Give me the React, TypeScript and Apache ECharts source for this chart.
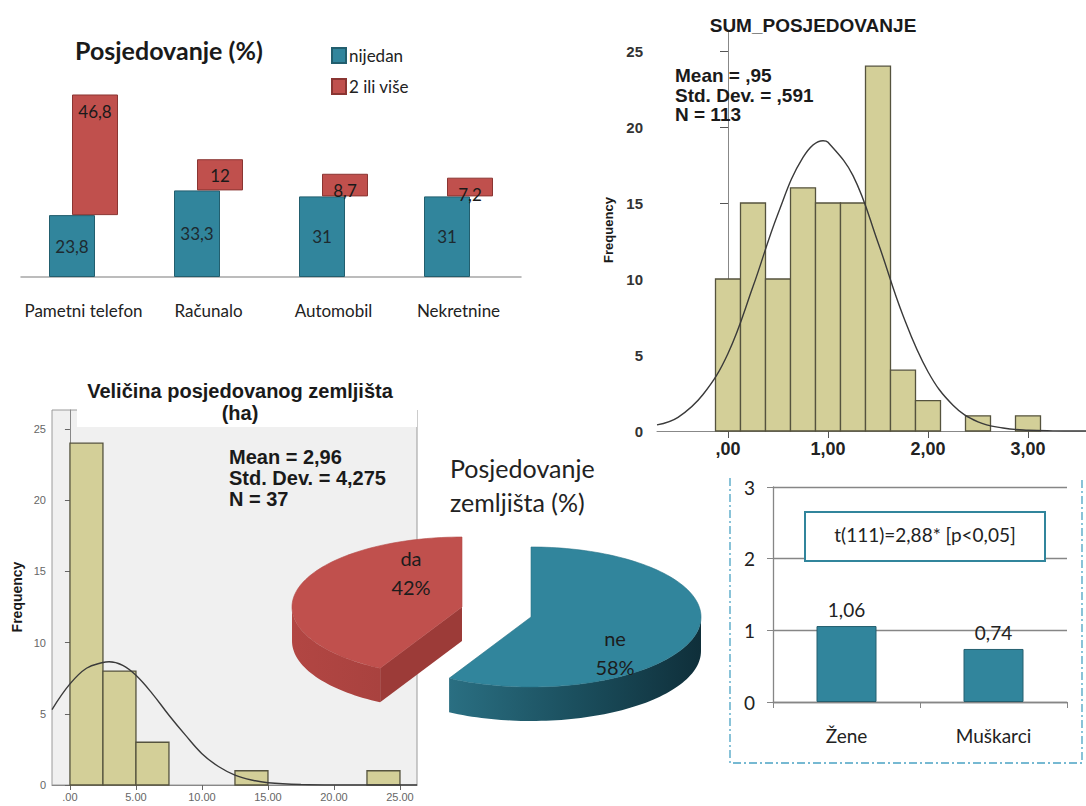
import React, { useEffect, useRef } from 'react';
import * as echarts from 'echarts';

// ---------- data ----------
const OWN_CATEGORIES = ['Pametni telefon', 'Računalo', 'Automobil', 'Nekretnine'];
const OWN_NONE = [23.8, 33.3, 31, 31];
const OWN_TWO_PLUS = [46.8, 12, 8.7, 7.2];
const OWN_LEGEND = ['nijedan', '2 ili više'];

const SUM_BIN_START = [-0.125, 0.125, 0.375, 0.625, 0.875, 1.125, 1.375, 1.625, 1.875, 2.375, 2.875];
const SUM_BIN_WIDTH = 0.25;
const SUM_COUNTS = [10, 15, 10, 16, 15, 15, 24, 4, 2, 1, 1];
const SUM_CURVE_X = [-0.71, -0.5, -0.25, 0, 0.25, 0.5, 0.75, 0.95, 1.0, 1.25, 1.5, 1.75, 2.0, 2.25, 2.5, 2.75, 3.0, 3.25, 3.58];
const SUM_CURVE_Y = [0.4, 0.9, 2.4, 5.1, 9.5, 14.3, 18.0, 19.1, 19.0, 16.8, 12.4, 7.6, 3.9, 1.7, 0.6, 0.2, 0.05, 0.01, 0];
const SUM_X_TICKS = [0, 1, 2, 3];
const SUM_X_LABELS = [',00', '1,00', '2,00', '3,00'];
const SUM_Y_TICKS = [0, 5, 10, 15, 20, 25];
const SUM_STATS = ['Mean = ,95', 'Std. Dev. = ,591', 'N = 113'];

const LAND_BIN_START = [0, 2.5, 5, 12.5, 22.5];
const LAND_BIN_WIDTH = 2.5;
const LAND_COUNTS = [24, 8, 3, 1, 1];
const LAND_CURVE_X = [-1.36, 0, 1.25, 2.5, 2.96, 4, 5, 6.25, 7.5, 8.75, 10, 11.25, 12.5, 13.75, 15, 17.5, 20, 26.3];
const LAND_CURVE_Y = [5.3, 7.1, 8.2, 8.6, 8.65, 8.4, 7.7, 6.4, 4.9, 3.5, 2.2, 1.3, 0.7, 0.35, 0.16, 0.03, 0, 0];
const LAND_X_TICKS = [0, 5, 10, 15, 20, 25];
const LAND_X_LABELS = ['.00', '5.00', '10.00', '15.00', '20.00', '25.00'];
const LAND_Y_TICKS = [0, 5, 10, 15, 20, 25];
const LAND_STATS = ['Mean = 2,96', 'Std. Dev. = 4,275', 'N = 37'];

const PIE_NAMES = ['ne', 'da'];
const PIE_VALUES = [58, 42];

const GENDER_CATEGORIES = ['Žene', 'Muškarci'];
const GENDER_MEANS = [1.06, 0.74];
const GENDER_TEST = 't(111)=2,88* [p<0,05]';

// ---------- styles ----------
const OFFICE = 'Lato, "Open Sans", sans-serif';
const SPSS = '"Liberation Sans", Arial, sans-serif';
const BLUE = '#31859c';
const RED = '#c0504d';
const KHAKI = '#d3cf98';

const comma = (v: number) => String(v).replace('.', ',');

const PIE_GEOM = [
  {
    cx: 531, cy: 617, top: BLUE, edge: '#2a7488',
    side: { type: 'linear', x: 0, y: 0, x2: 1, y2: 0, colorStops: [{ offset: 0, color: '#2a6f82' }, { offset: 0.5, color: '#1b4f5e' }, { offset: 1, color: '#0f2f3a' }] },
    cut: '#1b4f5e', label: [615, 652],
  },
  {
    cx: 462, cy: 607, top: RED, edge: '#b44a47',
    side: { type: 'linear', x: 0, y: 0, x2: 1, y2: 0, colorStops: [{ offset: 0, color: '#b24643' }, { offset: 1, color: '#a9423f' }] },
    cut: '#9c3b38', label: [411, 572],
  },
];
const PIE_RX = 170;
const PIE_RY = 70;
const PIE_DEPTH = 34;

function pieRenderItem(params: any, api: any) {
  const i = params.dataIndex;
  const total = PIE_VALUES.reduce((a, b) => a + b, 0);
  const before = PIE_VALUES.slice(0, i).reduce((a, b) => a + b, 0);
  const start = (before / total) * Math.PI * 2;
  const end = start + (api.value(0) / total) * Math.PI * 2;
  const g = PIE_GEOM[i];
  const pt = (a: number, dy = 0) => [g.cx + PIE_RX * Math.sin(a), g.cy - PIE_RY * Math.cos(a) + dy];
  const arc = (a0: number, a1: number, dy: number) => {
    const n = Math.max(2, Math.ceil((a1 - a0) / 0.03));
    const pts: number[][] = [];
    for (let k = 0; k <= n; k++) pts.push(pt(a0 + ((a1 - a0) * k) / n, dy));
    return pts;
  };
  const children: any[] = [];
  if (Math.sin(start) < -1e-6) {
    children.push({ type: 'polygon', shape: { points: [[g.cx, g.cy], pt(start), pt(start, PIE_DEPTH), [g.cx, g.cy + PIE_DEPTH]] }, style: { fill: g.cut } });
  }
  if (Math.sin(end) > 1e-6) {
    children.push({ type: 'polygon', shape: { points: [[g.cx, g.cy], pt(end), pt(end, PIE_DEPTH), [g.cx, g.cy + PIE_DEPTH]] }, style: { fill: g.cut } });
  }
  const s = Math.max(start, Math.PI / 2);
  const e = Math.min(end, (Math.PI * 3) / 2);
  if (e > s) {
    children.push({ type: 'polygon', shape: { points: [...arc(s, e, 0), ...arc(s, e, PIE_DEPTH).reverse()] }, style: { fill: g.side } });
  }
  children.push({ type: 'polygon', shape: { points: [[g.cx, g.cy], ...arc(start, end, 0)] }, style: { fill: g.top, stroke: g.edge, lineWidth: 0.6 } });
  children.push({
    type: 'text',
    style: {
      text: PIE_NAMES[i] + '\n' + api.value(0) + '%',
      x: g.label[0], y: g.label[1], align: 'center', verticalAlign: 'middle',
      fontFamily: OFFICE, fontSize: 20, lineHeight: 29, fill: '#1c1c1c',
    },
  });
  return { type: 'group', children };
}

function histRenderItem(width: number) {
  return (params: any, api: any) => {
    const x0 = api.value(0);
    const y = api.value(1);
    const p0 = api.coord([x0, 0]);
    const p1 = api.coord([x0 + width, y]);
    return {
      type: 'rect',
      shape: { x: p0[0], y: p1[1], width: p1[0] - p0[0], height: p0[1] - p1[1] },
      style: { fill: KHAKI, stroke: '#55533e', lineWidth: 1.3 },
    };
  };
}

const txt = (text: string, x: number, y: number, extra: any = {}) => ({
  type: 'text', x, y, z: 120,
  style: { text, fill: '#1a1a1a', verticalAlign: 'middle', ...extra },
});

export default function App() {
  const ref = useRef<HTMLDivElement>(null);
  useEffect(() => {
    if (!ref.current) return;
    const chart = echarts.init(ref.current, undefined, { renderer: 'svg' });
    const option: any = {
      animation: false,
      backgroundColor: '#ffffff',
      legend: {
        data: OWN_LEGEND, orient: 'vertical', left: 331, top: 47, itemWidth: 14, itemHeight: 15, itemGap: 14,
        icon: 'rect', padding: 0, selectedMode: false,
        textStyle: { fontFamily: OFFICE, fontSize: 17, color: '#222', padding: [0, 0, 0, -2] },
      },
      grid: [
        { left: 21, top: 95, width: 500, height: 182 },
        { left: 657, top: 32, width: 429, height: 399 },
        { left: 52, top: 410, width: 365, height: 375, show: true, backgroundColor: '#f0f0f0', borderColor: '#9a9a9a', borderWidth: 1 },
        { left: 773, top: 487, width: 294, height: 215 },
      ],
      xAxis: [
        {
          gridIndex: 0, type: 'category', data: OWN_CATEGORIES,
          axisLine: { lineStyle: { color: '#a6a6a6', width: 1.5 } }, axisTick: { show: false },
          axisLabel: { interval: 0, fontFamily: OFFICE, fontSize: 17, color: '#222', margin: 25 },
        },
        {
          gridIndex: 1, type: 'value', min: -0.71, max: 3.58, splitLine: { show: false },
          axisLine: { lineStyle: { color: '#888', width: 1 } },
          axisTick: { customValues: SUM_X_TICKS, length: 7, lineStyle: { color: '#555' } },
          axisLabel: {
            customValues: SUM_X_TICKS, margin: 9, fontFamily: SPSS, fontWeight: 'bold', fontSize: 18, color: '#222',
            formatter: (v: number) => SUM_X_LABELS[SUM_X_TICKS.indexOf(v)] ?? '',
          },
        },
        {
          gridIndex: 2, type: 'value', min: -1.36, max: 26.29, splitLine: { show: false },
          axisLine: { lineStyle: { color: '#888', width: 1 } },
          axisTick: { customValues: LAND_X_TICKS, length: 5, lineStyle: { color: '#666' } },
          axisLabel: {
            customValues: LAND_X_TICKS, margin: 6, fontFamily: SPSS, fontSize: 11, color: '#666',
            formatter: (v: number) => LAND_X_LABELS[LAND_X_TICKS.indexOf(v)] ?? '',
          },
        },
        {
          gridIndex: 3, type: 'category', data: GENDER_CATEGORIES,
          axisLine: { lineStyle: { color: '#868686', width: 1.3 } },
          axisTick: { show: true, length: 6, lineStyle: { color: '#868686' } },
          axisLabel: { interval: 0, fontFamily: OFFICE, fontSize: 19, color: '#222', margin: 24 },
        },
      ],
      yAxis: [
        { gridIndex: 0, type: 'value', min: 0, max: 70, show: false },
        {
          gridIndex: 1, type: 'value', min: 0, max: 26.25, splitLine: { show: false },
          axisLine: { show: true, lineStyle: { color: '#888', width: 1 } },
          axisTick: { show: true, customValues: SUM_Y_TICKS, length: 8, lineStyle: { color: '#555' } },
          axisLabel: { customValues: SUM_Y_TICKS, margin: 14, fontFamily: SPSS, fontWeight: 'bold', fontSize: 15, color: '#333' },
        },
        {
          gridIndex: 2, type: 'value', min: 0, max: 26.33, splitLine: { show: false },
          axisLine: { show: true, lineStyle: { color: '#888', width: 1 } },
          axisTick: { show: true, customValues: LAND_Y_TICKS, length: 5, lineStyle: { color: '#666' } },
          axisLabel: { customValues: LAND_Y_TICKS, margin: 6, fontFamily: SPSS, fontSize: 11, color: '#666' },
        },
        {
          gridIndex: 3, type: 'value', min: 0, max: 3, interval: 1,
          axisLine: { show: true, lineStyle: { color: '#868686', width: 1.3 } },
          axisTick: { show: true, length: 6, lineStyle: { color: '#868686' } },
          splitLine: { show: true, lineStyle: { color: '#868686', width: 1.3 } },
          axisLabel: { fontFamily: OFFICE, fontSize: 19, color: '#222', margin: 18 },
        },
      ],
      series: [
        {
          type: 'bar', name: OWN_LEGEND[0], xAxisIndex: 0, yAxisIndex: 0, data: OWN_NONE, barWidth: 46, barGap: '-50%',
          itemStyle: { color: BLUE, borderColor: '#225e6e', borderWidth: 1 },
          label: { show: true, position: 'inside', formatter: (p: any) => comma(p.value), fontFamily: OFFICE, fontSize: 17, color: '#1d2a30' },
        },
        {
          type: 'bar', name: 'base', xAxisIndex: 0, yAxisIndex: 0, data: OWN_NONE, stack: 'r', barWidth: 46, barGap: '-50%',
          itemStyle: { color: 'rgba(0,0,0,0)' }, silent: true, label: { show: false },
        },
        {
          type: 'bar', name: OWN_LEGEND[1], xAxisIndex: 0, yAxisIndex: 0, data: OWN_TWO_PLUS, stack: 'r', barWidth: 46, barGap: '-50%',
          itemStyle: { color: RED, borderColor: '#8a3532', borderWidth: 1 },
          label: { show: true, position: 'insideTop', distance: 8, formatter: (p: any) => comma(p.value), fontFamily: OFFICE, fontSize: 17, color: '#1a1a1a' },
        },
        {
          type: 'custom', xAxisIndex: 1, yAxisIndex: 1, renderItem: histRenderItem(SUM_BIN_WIDTH),
          encode: { x: 0, y: 1 }, data: SUM_BIN_START.map((s, i) => [s, SUM_COUNTS[i]]),
        },
        {
          type: 'line', xAxisIndex: 1, yAxisIndex: 1, data: SUM_CURVE_X.map((x, i) => [x, SUM_CURVE_Y[i]]),
          smooth: 0.4, showSymbol: false, lineStyle: { color: '#3a3a3a', width: 1.4 }, z: 5,
        },
        {
          type: 'custom', xAxisIndex: 2, yAxisIndex: 2, renderItem: histRenderItem(LAND_BIN_WIDTH),
          encode: { x: 0, y: 1 }, data: LAND_BIN_START.map((s, i) => [s, LAND_COUNTS[i]]),
        },
        {
          type: 'line', xAxisIndex: 2, yAxisIndex: 2, data: LAND_CURVE_X.map((x, i) => [x, LAND_CURVE_Y[i]]),
          smooth: 0.4, showSymbol: false, lineStyle: { color: '#3a3a3a', width: 1.4 }, z: 5,
        },
        {
          type: 'bar', xAxisIndex: 3, yAxisIndex: 3, data: GENDER_MEANS, barWidth: 60,
          itemStyle: { color: BLUE, borderColor: '#245f6f', borderWidth: 1 },
          label: { show: true, position: 'top', distance: 7, formatter: (p: any) => comma(p.value), fontFamily: OFFICE, fontSize: 19, color: '#222' },
        },
        {
          type: 'custom', coordinateSystem: 'none', renderItem: pieRenderItem, z: 50,
          data: PIE_VALUES.map((v, i) => ({ value: v, name: PIE_NAMES[i] })),
        },
      ],
      graphic: [
        txt('Posjedovanje (%)', 75, 50, { fontFamily: OFFICE, fontWeight: 'bold', fontSize: 25 }),
        txt('SUM_POSJEDOVANJE', 813, 25, { fontFamily: SPSS, fontWeight: 'bold', fontSize: 19, align: 'center' }),
        txt(SUM_STATS.join('\n'), 675, 95, { fontFamily: SPSS, fontWeight: 'bold', fontSize: 19, lineHeight: 19.5 }),
        {
          type: 'text', x: 608, y: 230, rotation: Math.PI / 2, z: 120,
          style: { text: 'Frequency', fontFamily: SPSS, fontWeight: 'bold', fontSize: 13, fill: '#1a1a1a', align: 'center', verticalAlign: 'middle' },
        },
        { type: 'rect', z: 110, shape: { x: 77, y: 376, width: 340, height: 51 }, style: { fill: '#ffffff' } },
        txt('Veličina posjedovanog zemljišta\n(ha)', 240, 402, { fontFamily: SPSS, fontWeight: 'bold', fontSize: 20, lineHeight: 22, align: 'center' }),
        txt(LAND_STATS.join('\n'), 229, 478, { fontFamily: SPSS, fontWeight: 'bold', fontSize: 20, lineHeight: 21 }),
        {
          type: 'text', x: 17, y: 597, rotation: Math.PI / 2, z: 120,
          style: { text: 'Frequency', fontFamily: SPSS, fontWeight: 'bold', fontSize: 14, fill: '#1a1a1a', align: 'center', verticalAlign: 'middle' },
        },
        txt('Posjedovanje\nzemljišta (%)', 450, 485, { fontFamily: OFFICE, fontSize: 25, lineHeight: 34, fill: '#222' }),
        {
          type: 'polyline', z: 120,
          shape: { points: [[730, 478], [730, 763], [1082, 763], [1082, 478]] },
          style: { fill: 'none', stroke: '#4aa3c4', lineWidth: 1.3, lineDash: [8, 3, 2, 3] },
        },
        { type: 'rect', z: 120, shape: { x: 805, y: 512, width: 240, height: 49 }, style: { fill: '#ffffff', stroke: BLUE, lineWidth: 2 } },
        txt(GENDER_TEST, 925, 534, { fontFamily: OFFICE, fontSize: 19, align: 'center', fill: '#222' }),
      ],
    };
    option.graphic[option.graphic.length - 1].z = 121;
    chart.setOption(option);
    return () => chart.dispose();
  }, []);
  return <div ref={ref} style={{ position: 'fixed', left: 0, top: 0, width: 1086, height: 806 }} />;
}
